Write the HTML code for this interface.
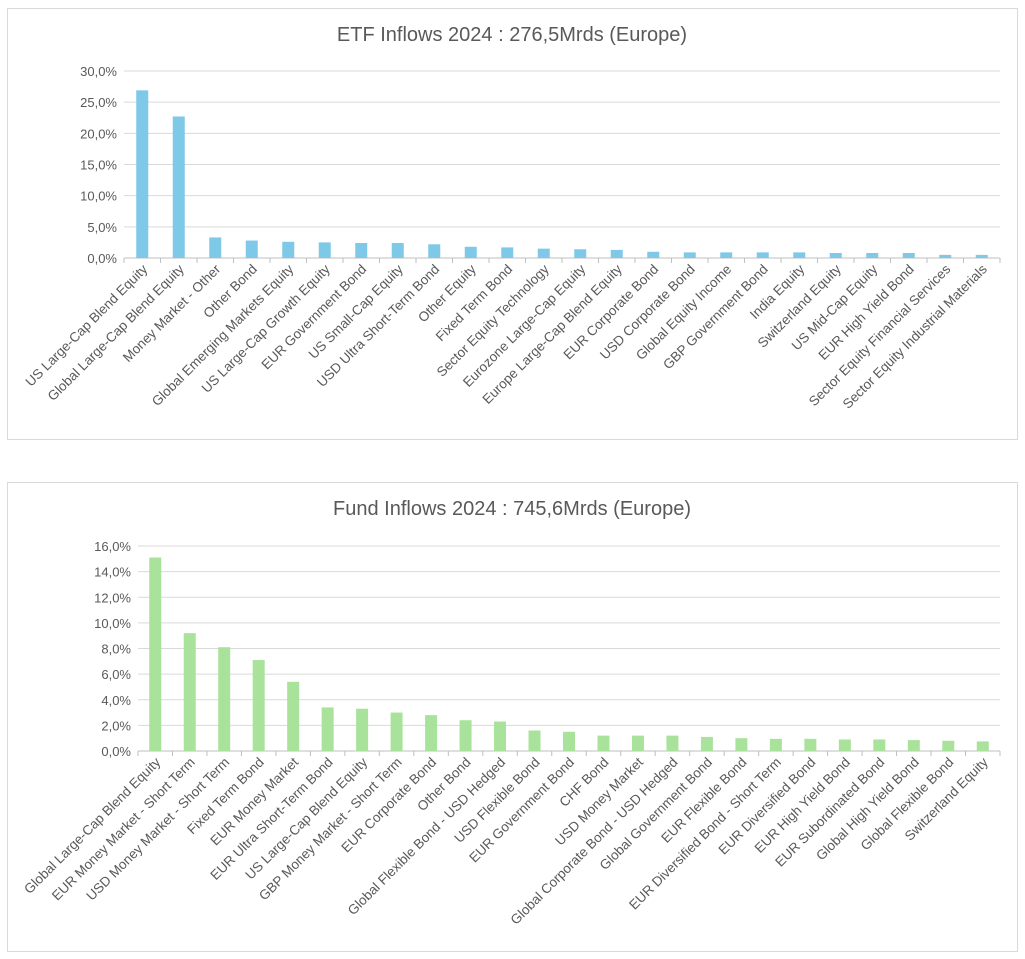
<!DOCTYPE html>
<html><head><meta charset="utf-8"><style>
body{margin:0;background:#fff;font-family:"Liberation Sans",sans-serif}
svg text{font-family:"Liberation Sans",sans-serif}
</style></head><body>
<svg id="s" width="1025" height="954" xmlns="http://www.w3.org/2000/svg">
<rect x="7.5" y="8.5" width="1010" height="431" fill="#fff" stroke="#d9d9d9"/>
<rect x="7.5" y="482.5" width="1010" height="469" fill="#fff" stroke="#d9d9d9"/>
<text x="512" y="41" text-anchor="middle" font-size="20" fill="#595959">ETF  Inflows 2024 : 276,5Mrds (Europe)</text>
<text x="512" y="515" text-anchor="middle" font-size="20" fill="#595959">Fund Inflows 2024 : 745,6Mrds (Europe)</text>
</svg>
<script>
const etfCats=["US Large-Cap Blend Equity","Global Large-Cap Blend Equity","Money Market - Other","Other Bond","Global Emerging Markets Equity","US Large-Cap Growth Equity","EUR Government Bond","US Small-Cap Equity","USD Ultra Short-Term Bond","Other Equity","Fixed Term Bond","Sector Equity Technology","Eurozone Large-Cap Equity","Europe Large-Cap Blend Equity","EUR Corporate Bond","USD Corporate Bond","Global Equity Income","GBP Government Bond","India Equity","Switzerland Equity","US Mid-Cap Equity","EUR High Yield Bond","Sector Equity Financial Services","Sector Equity Industrial Materials"];
const etfVals=[26.9,22.7,3.3,2.8,2.6,2.5,2.4,2.4,2.2,1.8,1.7,1.5,1.4,1.3,1.0,0.9,0.9,0.9,0.9,0.8,0.8,0.8,0.5,0.5];
const etfTicks=[0,5,10,15,20,25,30];
const fundCats=["Global Large-Cap Blend Equity","EUR Money Market - Short Term","USD Money Market - Short Term","Fixed Term Bond","EUR Money Market","EUR Ultra Short-Term Bond","US Large-Cap Blend Equity","GBP Money Market - Short Term","EUR Corporate Bond","Other Bond","Global Flexible Bond - USD Hedged","USD Flexible Bond","EUR Government Bond","CHF Bond","USD Money Market","Global Corporate Bond - USD Hedged","Global Government Bond","EUR Flexible Bond","EUR Diversified Bond - Short Term","EUR Diversified Bond","EUR High Yield Bond","EUR Subordinated Bond","Global High Yield Bond","Global Flexible Bond","Switzerland Equity"];
const fundVals=[15.1,9.2,8.1,7.1,5.4,3.4,3.3,3.0,2.8,2.4,2.3,1.6,1.5,1.2,1.2,1.2,1.1,1.0,0.95,0.95,0.9,0.9,0.85,0.8,0.75];
const fundTicks=[0,2,4,6,8,10,12,14,16];
const NS="http://www.w3.org/2000/svg",svg=document.getElementById('s');
function mk(t,a,txt){const e=document.createElementNS(NS,t);for(const k in a)e.setAttribute(k,a[k]);if(txt!=null)e.textContent=txt;svg.appendChild(e);return e;}
function chart(p,cats,vals,ticks,color){
  const y=v=>p.y0-(v-ticks[0])/(ticks[ticks.length-1]-ticks[0])*(p.y0-p.y1);
  const bw=(p.x1-p.x0)/cats.length;
  ticks.forEach(t=>{
    const g=mk('line',{x1:p.x0,x2:p.x1,y1:y(t),y2:y(t),stroke:t===0?'#bfbfbf':'#d9d9d9','stroke-width':1});
    
    
    const l=mk('text',{x:p.x0-7,y:y(t)+5,'text-anchor':'end','font-size':13,fill:'#595959'},t.toFixed(1).replace('.',',')+'%');
    
    
  });
  cats.forEach((c,i)=>{
    const cx=p.x0+bw*(i+0.5);
    const tk=mk('line',{x1:p.x0+bw*i,x2:p.x0+bw*i,y1:p.y0,y2:p.y0+5,stroke:'#bfbfbf'});
    
    
    const b=mk('rect',{x:cx-6,y:y(vals[i]),width:12,height:p.y0-y(vals[i]),fill:color});
    
    
    const t=mk('text',{x:cx+6,y:p.y0+12,'text-anchor':'end','font-size':13.5,fill:'#595959',transform:`rotate(-45 ${cx+6} ${p.y0+12})`},c);
    
    
  });
  const last=mk('line',{x1:p.x1,x2:p.x1,y1:p.y0,y2:p.y0+5,stroke:'#bfbfbf'});
  
  
}
chart({id:'etf',x0:124,x1:1000,y0:258,y1:71},etfCats,etfVals,etfTicks,'#7ec8e8');
chart({id:'fund',x0:138,x1:1000,y0:751,y1:546},fundCats,fundVals,fundTicks,'#a9e29a');
</script>
</body></html>
